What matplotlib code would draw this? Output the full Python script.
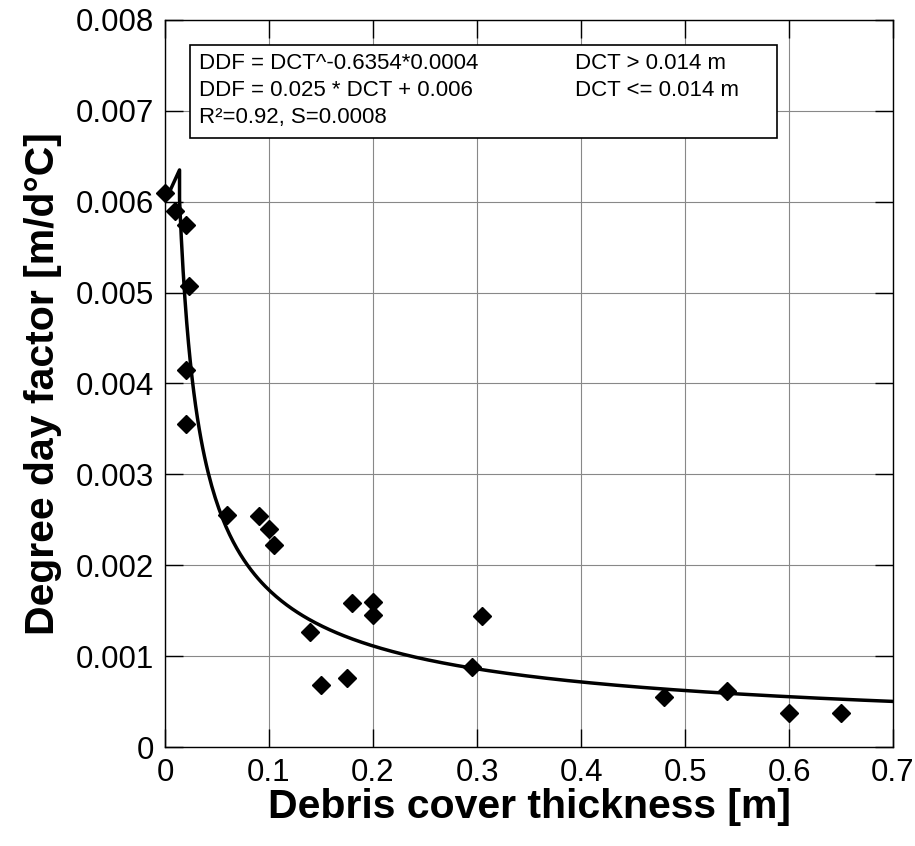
import numpy as np
import matplotlib.pyplot as plt
from matplotlib.patches import Rectangle

plt.rcParams['font.family'] = ['Liberation Sans', 'DejaVu Sans']

# measured debris cover thickness [m] and degree day factor [m/d°C]
dct = [0.0, 0.01, 0.02, 0.023, 0.02, 0.02, 0.06, 0.09, 0.10, 0.105, 0.139,
       0.15, 0.175, 0.18, 0.20, 0.20, 0.295, 0.305, 0.48, 0.54, 0.60, 0.65]
ddf = [0.0061, 0.0059, 0.00574, 0.00507, 0.00415, 0.00355, 0.00255, 0.00254,
       0.0024, 0.00222, 0.00127, 0.00068, 0.00076, 0.00158, 0.0016, 0.00145,
       0.00088, 0.00144, 0.00055, 0.00062, 0.00037, 0.00037]

# fit curve (formula from the box)
x_lin = np.linspace(0.0, 0.014, 20)
y_lin = 0.025 * x_lin + 0.006
x_pow = np.linspace(0.014, 0.7, 400)
y_pow = x_pow ** -0.6354 * 0.0004
x_fit = np.concatenate([x_lin, x_pow])
y_fit = np.concatenate([y_lin, y_pow])

x_ticks = [0, 0.1, 0.2, 0.3, 0.4, 0.5, 0.6, 0.7]
x_labels = ['0', '0.1', '0.2', '0.3', '0.4', '0.5', '0.6', '0.7']
y_ticks = [0, 0.001, 0.002, 0.003, 0.004, 0.005, 0.006, 0.007, 0.008]
y_labels = ['0', '0.001', '0.002', '0.003', '0.004', '0.005', '0.006', '0.007', '0.008']

eq_left = ['DDF = DCT^-0.6354*0.0004', 'DDF = 0.025 * DCT + 0.006', 'R²=0.92, S=0.0008']
eq_right = ['DCT > 0.014 m', 'DCT <= 0.014 m', '']

fig = plt.figure(figsize=(9.15, 8.46), dpi=100)
ax = fig.add_axes([0.1803, 0.117, 0.7957, 0.8594])

ax.plot(x_fit, y_fit, color='black', lw=2.5, zorder=3)
ax.plot(dct, ddf, 'D', color='black', ms=9.5, zorder=4, clip_on=False)

ax.set_xlim(0, 0.7)
ax.set_ylim(0, 0.008)
ax.set_xticks(x_ticks)
ax.set_xticklabels(x_labels)
ax.set_yticks(y_ticks)
ax.set_yticklabels(y_labels)
ax.tick_params(direction='in', length=13, width=1, labelsize=22.5,
               top=True, right=True, pad=8)
ax.grid(True, color='#888888', lw=0.8)
for s in ax.spines.values():
    s.set_linewidth(1)

ax.set_xlabel('Debris cover thickness [m]', fontsize=29.5, fontweight='bold', labelpad=0)
ax.set_ylabel('Degree day factor [m/d°C]', fontsize=29.5, fontweight='bold', labelpad=10)

# equation box
ax.add_patch(Rectangle((0.024, 0.006702), 0.5645, 0.001023, fc='white',
                       ec='black', lw=1.2, zorder=6))
for i in range(3):
    yy = 0.007516 - i * 0.000292
    ax.text(0.0325, yy, eq_left[i], fontsize=16, va='center', ha='left', zorder=7)
    ax.text(0.394, yy, eq_right[i], fontsize=16, va='center', ha='left', zorder=7)

fig.savefig('out.png', dpi=100)
